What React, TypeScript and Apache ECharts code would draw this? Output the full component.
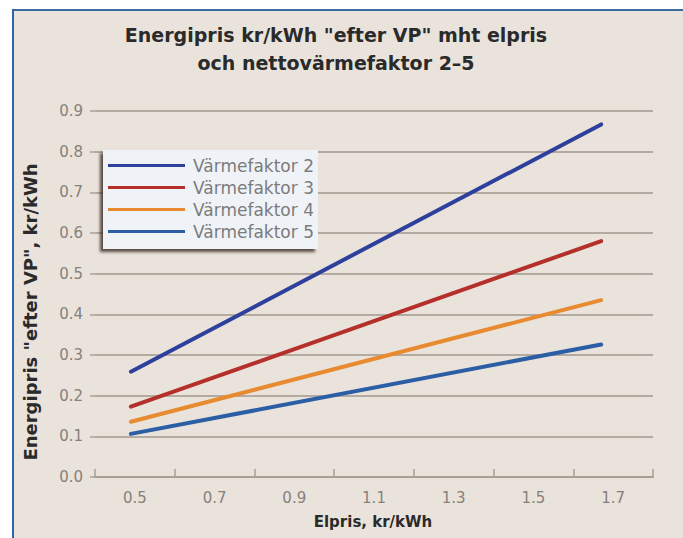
import React, { useEffect, useRef } from "react";
import * as echarts from "echarts";

const title1 = 'Energipris kr/kWh "efter VP" mht elpris';
const title2 = "och nettovärmefaktor 2–5";
const yAxisTitle = 'Energipris "efter VP", kr/kWh';
const xAxisTitle = "Elpris, kr/kWh";

const seriesNames = ["Värmefaktor 2", "Värmefaktor 3", "Värmefaktor 4", "Värmefaktor 5"];
const elpris = [0.49, 1.67];
const vf2 = [0.259, 0.867];
const vf3 = [0.173, 0.58];
const vf4 = [0.136, 0.435];
const vf5 = [0.106, 0.326];
const seriesValues = [vf2, vf3, vf4, vf5];
const seriesColors = ["#2f3f9c", "#b5302b", "#e88a30", "#2c5ea6"];

const xTickLabels = ["0.5", "0.7", "0.9", "1.1", "1.3", "1.5", "1.7"];

const FONT = "'DejaVu Sans', Verdana, sans-serif";

export default function App() {
  const ref = useRef<HTMLDivElement>(null);
  useEffect(() => {
    if (!ref.current) return;
    const chart = echarts.init(ref.current, null, { renderer: "svg" });
    const grid = { left: 95, right: 30, top: 111, bottom: 61 };
    chart.setOption({
      animation: false,
      backgroundColor: "#ffffff",
      textStyle: { fontFamily: FONT },
      graphic: [
        { type: "rect", z: -10, shape: { x: 12, y: 9, width: 671, height: 529 }, style: { fill: "#e9e3dc" } },
        { type: "rect", z: -9, shape: { x: 12, y: 9, width: 671, height: 2 }, style: { fill: "#3b6aa3" } },
        { type: "rect", z: -9, shape: { x: 12, y: 9, width: 2, height: 529 }, style: { fill: "#2f62a6" } },
        {
          type: "text",
          x: 336,
          y: 35,
          style: { text: title1, font: `bold 19px ${FONT}`, fill: "#2a2a2a", align: "center", verticalAlign: "middle" },
        },
        {
          type: "text",
          x: 336,
          y: 63,
          style: { text: title2, font: `bold 19px ${FONT}`, fill: "#2a2a2a", align: "center", verticalAlign: "middle" },
        },
        {
          type: "text",
          x: 30,
          y: 312,
          rotation: Math.PI / 2,
          style: { text: yAxisTitle, font: `bold 18px ${FONT}`, fill: "#2a2a2a", align: "center", verticalAlign: "middle" },
        },
        {
          type: "text",
          x: 373,
          y: 522,
          style: { text: xAxisTitle, font: `bold 15px ${FONT}`, fill: "#2a2a2a", align: "center", verticalAlign: "middle" },
        },
      ],
      grid,
      legend: {
        show: true,
        data: seriesNames,
        orient: "vertical",
        left: 103,
        top: 150,
        padding: [7, 4, 9, 5],
        itemGap: 5,
        itemWidth: 77,
        itemHeight: 3,
        icon: "rect",
        backgroundColor: "#eff3f8",
        shadowColor: "rgba(40,30,20,0.75)",
        shadowBlur: 3,
        shadowOffsetX: -3,
        shadowOffsetY: 3,
        textStyle: { color: "#7c7b7a", fontSize: 17, fontFamily: FONT, padding: [0, 0, 0, 3] },
      },
      xAxis: [
        {
          type: "value",
          min: 0.4,
          max: 1.8,
          interval: 0.2,
          axisLine: { show: true, lineStyle: { color: "#a8a097", width: 2 } },
          axisTick: { show: true, inside: true, length: 8, lineStyle: { color: "#a8a097", width: 1.5 } },
          axisLabel: { show: false },
          splitLine: { show: false },
        },
        {
          type: "value",
          position: "bottom",
          min: 0.4,
          max: 1.8,
          interval: 0.1,
          axisLine: { show: false },
          axisTick: { show: false },
          axisLabel: {
            show: true,
            margin: 13,
            color: "#86817b",
            fontSize: 15,
            fontFamily: FONT,
            formatter: (v: number) => {
              const k = Math.round(v * 10);
              const s = (k / 10).toFixed(1);
              return xTickLabels.indexOf(s) >= 0 ? s : "";
            },
          },
          splitLine: { show: false },
        },
      ],
      yAxis: {
        type: "value",
        min: 0,
        max: 0.9,
        interval: 0.1,
        axisLine: { show: false },
        axisTick: { show: true, length: 5, lineStyle: { color: "#aaa299", width: 1.5 } },
        axisLabel: {
          margin: 12,
          color: "#86817b",
          fontSize: 15,
          fontFamily: FONT,
          formatter: (v: number) => v.toFixed(1),
        },
        splitLine: { show: true, lineStyle: { color: "#b3aaa1", width: 2 } },
      },
      series: seriesNames.map((name, i) => ({
        name,
        type: "line",
        xAxisIndex: 0,
        symbol: "none",
        color: seriesColors[i],
        lineStyle: { color: seriesColors[i], width: 4, cap: "round" },
        data: elpris.map((x, j) => [x, seriesValues[i][j]]),
      })),
    });
    return () => chart.dispose();
  }, []);
  return <div ref={ref} style={{ position: "fixed", left: 0, top: 0, width: 683, height: 538 }} />;
}
